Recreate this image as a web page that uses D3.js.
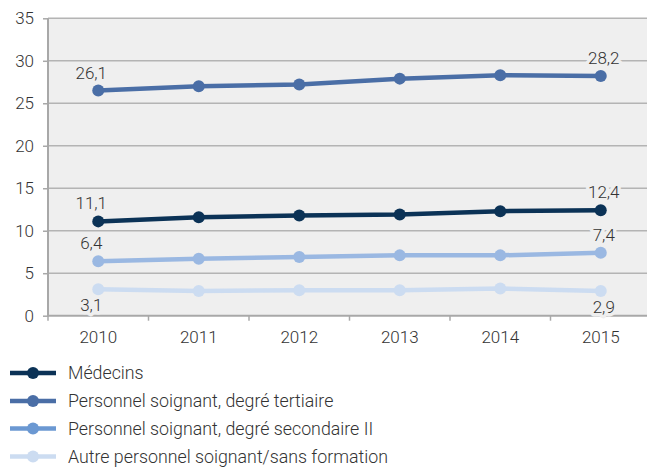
<!DOCTYPE html>
<html><head><meta charset="utf-8">
<script src="https://cdn.jsdelivr.net/npm/d3@7"></script>
<style>
html,body{margin:0;padding:0;background:#fff;}
svg{display:block;font-family:Roboto, "Noto Sans", sans-serif;}
</style></head>
<body><svg id="chart" width="647" height="468"></svg>
<script>
const years = ["2010","2011","2012","2013","2014","2015"];
const seriesNames = ["Médecins","Personnel soignant, degré tertiaire","Personnel soignant, degré secondaire II","Autre personnel soignant/sans formation"];
const medecins   = [11.1, 11.6, 11.8, 11.9, 12.3, 12.4];
const tertiaire  = [26.5, 27.0, 27.2, 27.9, 28.3, 28.2];
const secondaire = [6.4, 6.7, 6.9, 7.1, 7.1, 7.4];
const autre      = [3.1, 2.9, 3.0, 3.0, 3.2, 2.9];
const firstLabels = ["11,1","26,1","6,4","3,1"];
const lastLabels  = ["12,4","28,2","7,4","2,9"];
const yTicks = [0,5,10,15,20,25,30,35];

const lineColors   = ["#0b3256","#4a6ea6","#9ab8e2","#ccdcf1"];
const legendColors = ["#0b3256","#4a6ea6","#6b98d2","#ccdcf1"];
const labelBelow = [false,false,false,true];

const svg = d3.select("#chart");
const mLeft = 48, mTop = 18.3, mBottom = 315.7;
const x = d3.scaleBand().domain(years).range([mLeft, 651]);
const y = d3.scaleLinear().domain([0,35]).range([mBottom, mTop]);

svg.append("rect").attr("x", mLeft).attr("y", y(35)).attr("width", 647-mLeft).attr("height", mBottom - y(35)).attr("fill", "#efefef");

svg.append("g").selectAll("line").data(yTicks.filter(d=>d>0)).join("line")
  .attr("x1", mLeft).attr("x2", 647).attr("y1", d=>y(d)).attr("y2", d=>y(d))
  .attr("stroke", "#b4b4b4").attr("stroke-width", 1.5);

const yAxis = svg.append("g").attr("transform", `translate(${mLeft},0)`)
  .call(d3.axisLeft(y).tickValues(yTicks).tickSize(5).tickPadding(9).tickFormat(d3.format("d")));
yAxis.select(".domain").remove();
yAxis.selectAll(".tick line").attr("stroke","#a8a8a8").attr("stroke-width",1.5);
yAxis.selectAll("text").attr("fill","#333").attr("font-size","17px").attr("font-weight",300).attr("font-family","Roboto");
svg.append("line").attr("x1",mLeft).attr("x2",mLeft).attr("y1",y(35)).attr("y2",mBottom+1)
  .attr("stroke","#a8a8a8").attr("stroke-width",2);

const xAxis = svg.append("g").attr("transform", `translate(0,${mBottom})`)
  .call(d3.axisBottom(x).tickSize(0).tickPadding(15));
xAxis.select(".domain").remove();
xAxis.selectAll("text").attr("fill","#333").attr("font-size","17px").attr("font-weight",300).attr("font-family","Roboto");
svg.append("line").attr("x1",mLeft).attr("x2",647).attr("y1",mBottom).attr("y2",mBottom)
  .attr("stroke","#a8a8a8").attr("stroke-width",2);
svg.append("g").selectAll("line").data(years).join("line")
  .attr("x1", d=>x(d)).attr("x2", d=>x(d)).attr("y1", mBottom).attr("y2", mBottom+5)
  .attr("stroke","#a8a8a8").attr("stroke-width",1.5);

const data = [medecins, tertiaire, secondaire, autre];
const cx = d => x(d) + x.bandwidth()/2;
const line = d3.line().x((d,i)=>cx(years[i])).y(d=>y(d));

[3,2,1,0].forEach(k => {
  const g = svg.append("g");
  g.append("path").datum(data[k]).attr("d", line).attr("fill","none")
    .attr("stroke", lineColors[k]).attr("stroke-width", 4.5).attr("stroke-linejoin","round");
  g.selectAll("circle").data(data[k]).join("circle")
    .attr("cx",(d,i)=>cx(years[i])).attr("cy",d=>y(d)).attr("r",6).attr("fill",lineColors[k]);
});

data.forEach((vals,k) => {
  const items = [
    {i:0, t:firstLabels[k], dx:-7},
    {i:5, t:lastLabels[k], dx:3}
  ];
  items.forEach(it => {
    const px = cx(years[it.i]) + it.dx;
    const py = y(vals[it.i]) + (labelBelow[k] ? 22 : -12);
    svg.append("text").attr("x",px).attr("y",py).attr("text-anchor","middle")
      .attr("font-size","17px").attr("font-weight",300).attr("fill","#333")
      .attr("stroke","#efefef").attr("stroke-width",7).attr("paint-order","stroke").attr("stroke-linejoin","round")
      .text(it.t);
  });
});

const leg = svg.append("g");
const legY = [373, 401, 428.5, 456.5];
seriesNames.forEach((name,k) => {
  const g = leg.append("g").attr("transform",`translate(0,${legY[k]})`);
  g.append("line").attr("x1",10).attr("x2",56).attr("y1",0).attr("y2",0).attr("stroke",legendColors[k]).attr("stroke-width",4.5);
  g.append("circle").attr("cx",33).attr("cy",0).attr("r",6).attr("fill",legendColors[k]);
  g.append("text").attr("x",68).attr("y",0).attr("dy","0.35em").attr("font-size","17.8px").attr("font-weight",300)
    .attr("fill","#333").text(name);
});
</script></body></html>
